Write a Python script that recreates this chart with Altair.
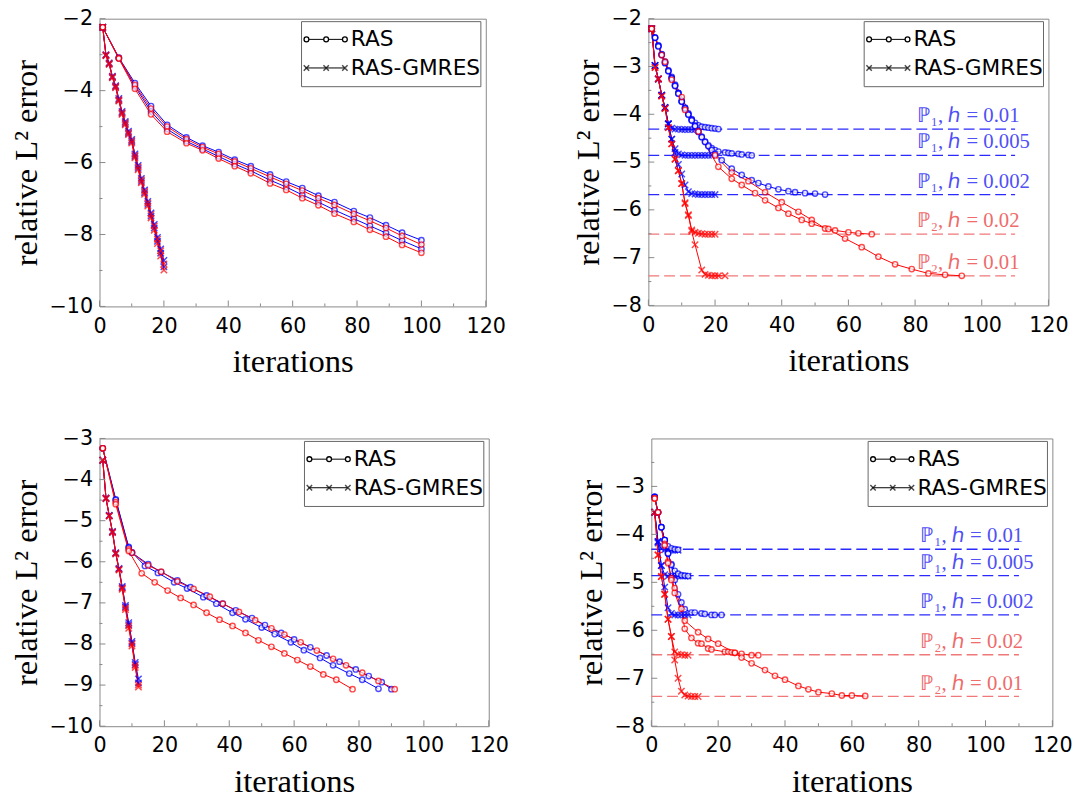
import altair as alt
import pandas as pd

BLUE = "#0000ff"
RED = "#ff0000"
BLUE_DASH = "#2a2aff"
RED_DASH = "#f07878"
BLUE_TXT = "#5050f5"
RED_TXT = "#ee6c6c"
XPATH = "M-1,-1L1,1M-1,1L1,-1"

# ---------------- panel 1 (top-left) ----------------
p1_ras_x = [1, 6, 11, 16, 21, 27, 32, 37, 42, 47, 53, 58, 63, 68, 73, 79, 84, 89, 94, 100]
p1_ras_blue_a = [-2.24, -3.08, -3.79, -4.43, -4.95, -5.30, -5.53, -5.71, -5.92, -6.10, -6.33, -6.53, -6.71, -6.92, -7.10, -7.35, -7.53, -7.74, -7.95, -8.16]
p1_ras_red_a = [-2.24, -3.09, -3.84, -4.50, -5.00, -5.35, -5.57, -5.76, -5.97, -6.16, -6.40, -6.59, -6.78, -6.99, -7.18, -7.43, -7.62, -7.82, -8.04, -8.28]
p1_ras_blue_b = [-2.24, -3.10, -3.88, -4.58, -5.07, -5.41, -5.62, -5.83, -6.04, -6.23, -6.49, -6.68, -6.90, -7.10, -7.32, -7.56, -7.76, -7.96, -8.17, -8.40]
p1_ras_red_b = [-2.24, -3.11, -3.95, -4.66, -5.14, -5.46, -5.66, -5.89, -6.10, -6.30, -6.58, -6.76, -6.99, -7.19, -7.42, -7.65, -7.87, -8.06, -8.29, -8.51]
p1_gm_x = [1, 2, 3, 4, 5, 6, 7, 8, 9, 10, 11, 12, 13, 14, 15, 16, 17, 18, 19, 20]
p1_gm_blue_a = [-2.24, -3.00, -3.23, -3.60, -3.86, -4.22, -4.58, -4.86, -5.13, -5.36, -5.76, -6.08, -6.44, -6.76, -7.08, -7.40, -7.72, -8.08, -8.40, -8.72]
p1_gm_red_a = [-2.24, -3.01, -3.24, -3.61, -3.88, -4.25, -4.61, -4.89, -5.16, -5.39, -5.80, -6.12, -6.48, -6.80, -7.12, -7.44, -7.76, -8.13, -8.45, -8.82]
p1_gm_blue_b = [-2.24, -3.02, -3.26, -3.63, -3.90, -4.27, -4.63, -4.92, -5.19, -5.42, -5.83, -6.16, -6.52, -6.84, -7.16, -7.49, -7.82, -8.19, -8.52, -8.90]
p1_gm_red_b = [-2.24, -3.03, -3.27, -3.64, -3.92, -4.29, -4.66, -4.95, -5.22, -5.46, -5.87, -6.20, -6.56, -6.88, -7.21, -7.54, -7.88, -8.25, -8.60, -8.99]

# ---------------- panel 2 (top-right) ----------------
p2_ras_b1_x = [1, 2, 3, 4, 5, 6, 7, 8, 9, 10, 11, 12, 13, 14, 15, 16, 17, 18, 19, 20, 21]
p2_ras_b1_y = [-2.21, -2.39, -2.56, -2.74, -2.90, -3.08, -3.22, -3.38, -3.55, -3.72, -3.86, -3.98, -4.10, -4.18, -4.23, -4.26, -4.27, -4.28, -4.29, -4.30, -4.31]
p2_ras_b2_x = [1, 2, 3, 4, 5, 6, 7, 8, 9, 10, 11, 12, 13, 14, 15, 16, 17, 18, 19, 20, 21, 23, 24, 25, 27, 28, 30, 31]
p2_ras_b2_y = [-2.21, -2.40, -2.57, -2.75, -2.92, -3.09, -3.24, -3.40, -3.56, -3.73, -3.87, -4.00, -4.12, -4.24, -4.36, -4.47, -4.57, -4.65, -4.71, -4.75, -4.78, -4.80, -4.81, -4.82, -4.83, -4.84, -4.85, -4.86]
p2_ras_b3_x = [1, 2, 3, 4, 5, 6, 7, 8, 9, 10, 11, 12, 13, 14, 15, 16, 17, 18, 19, 20, 22, 25, 28, 31, 33, 36, 39, 42, 44, 47, 50, 53]
p2_ras_b3_y = [-2.21, -2.40, -2.58, -2.76, -2.93, -3.10, -3.25, -3.41, -3.57, -3.74, -3.88, -4.01, -4.13, -4.25, -4.37, -4.48, -4.58, -4.67, -4.75, -4.83, -4.96, -5.14, -5.27, -5.38, -5.44, -5.51, -5.57, -5.61, -5.63, -5.65, -5.66, -5.68]
p2_ras_r1_x = [1, 5, 10, 15, 20, 25, 30, 35, 40, 45, 49, 53, 56, 60, 63, 67]
p2_ras_r1_y = [-2.21, -2.90, -3.64, -4.36, -4.86, -5.22, -5.40, -5.63, -5.84, -6.04, -6.21, -6.39, -6.43, -6.47, -6.49, -6.51]
p2_ras_r2_x = [1, 4, 7, 11, 21, 25, 28, 32, 35, 39, 42, 46, 49, 54, 59, 64, 69, 74, 79, 84, 89, 94]
p2_ras_r2_y = [-2.21, -2.76, -3.28, -3.91, -5.10, -5.35, -5.48, -5.65, -5.80, -5.96, -6.08, -6.21, -6.29, -6.40, -6.60, -6.78, -6.98, -7.14, -7.24, -7.33, -7.36, -7.38]
p2_gm_b1_x = [1, 2, 3, 4, 5, 6, 7, 8, 9, 10, 11, 12, 13, 14]
p2_gm_b1_y = [-2.21, -2.98, -3.26, -3.60, -3.86, -4.20, -4.29, -4.31, -4.31, -4.32, -4.32, -4.32, -4.32, -4.32]
p2_gm_b2_x = [1, 2, 3, 4, 5, 6, 7, 8, 9, 10, 11, 12, 13, 14, 15, 16, 17, 18, 19]
p2_gm_b2_y = [-2.21, -2.98, -3.26, -3.60, -3.86, -4.20, -4.52, -4.72, -4.83, -4.85, -4.86, -4.86, -4.86, -4.86, -4.86, -4.86, -4.86, -4.86, -4.86]
p2_gm_b3_x = [1, 2, 3, 4, 5, 6, 7, 8, 9, 10, 11, 12, 13, 14, 15, 16, 17, 18, 19, 20]
p2_gm_b3_y = [-2.21, -2.98, -3.26, -3.60, -3.86, -4.20, -4.52, -4.80, -5.05, -5.25, -5.48, -5.62, -5.66, -5.67, -5.68, -5.68, -5.68, -5.68, -5.68, -5.68]
p2_gm_r1_x = [1, 2, 3, 4, 5, 6, 7, 8, 9, 10, 11, 12, 13, 14, 15, 16, 17, 18, 19, 20]
p2_gm_r1_y = [-2.21, -3.02, -3.26, -3.62, -3.88, -4.28, -4.62, -4.94, -5.18, -5.45, -5.85, -6.10, -6.42, -6.47, -6.49, -6.50, -6.51, -6.51, -6.51, -6.51]
p2_gm_r2_x = [1, 2, 3, 4, 5, 6, 7, 8, 9, 10, 11, 12, 13, 14, 16, 17, 18, 19, 20, 21, 23]
p2_gm_r2_y = [-2.21, -3.02, -3.26, -3.62, -3.88, -4.28, -4.62, -4.94, -5.18, -5.45, -5.87, -6.12, -6.45, -6.73, -7.26, -7.35, -7.37, -7.38, -7.38, -7.38, -7.38]

# ---------------- panel 3 (bottom-left) ----------------
p3_ras_b1_x = [1, 5, 9, 10, 14, 18, 23, 27, 32, 36, 41, 45, 50, 54, 59, 63, 68, 72, 77, 81, 86]
p3_ras_b1_y = [-3.24, -4.48, -5.64, -5.77, -6.10, -6.27, -6.50, -6.65, -6.86, -7.02, -7.24, -7.40, -7.60, -7.76, -7.96, -8.15, -8.34, -8.52, -8.72, -8.87, -9.09]
p3_ras_b2_x = [1, 5, 9, 10, 15, 19, 24, 28, 33, 38, 42, 47, 51, 56, 60, 65, 70, 74, 79, 83, 87, 90]
p3_ras_b2_y = [-3.24, -4.50, -5.66, -5.78, -6.06, -6.25, -6.45, -6.62, -6.82, -7.02, -7.18, -7.37, -7.54, -7.73, -7.89, -8.08, -8.28, -8.43, -8.62, -8.78, -8.93, -9.10]
p3_ras_r1_x = [1, 5, 9, 10, 15, 19, 24, 29, 34, 38, 43, 48, 53, 57, 62, 67, 72, 76, 81, 86, 91]
p3_ras_r1_y = [-3.24, -4.55, -5.70, -5.78, -6.09, -6.24, -6.48, -6.66, -6.85, -7.02, -7.22, -7.42, -7.62, -7.77, -7.96, -8.16, -8.36, -8.52, -8.70, -8.90, -9.10]
p3_ras_r2_x = [1, 5, 9, 13, 17, 21, 25, 29, 33, 37, 41, 45, 49, 53, 57, 61, 65, 69, 73, 78]
p3_ras_r2_y = [-3.24, -4.60, -5.74, -6.28, -6.50, -6.70, -6.88, -7.05, -7.24, -7.41, -7.56, -7.73, -7.91, -8.07, -8.23, -8.39, -8.55, -8.74, -8.87, -9.10]
p3_gm_x = [1, 2, 3, 4, 5, 6, 7, 8, 9, 10, 11, 12]
p3_gm_b1 = [-3.53, -4.45, -4.87, -5.26, -5.78, -6.16, -6.60, -7.06, -7.48, -7.94, -8.45, -8.85]
p3_gm_b2 = [-3.53, -4.46, -4.88, -5.28, -5.80, -6.18, -6.63, -7.10, -7.53, -7.98, -8.50, -8.95]
p3_gm_r1 = [-3.53, -4.45, -4.88, -5.27, -5.79, -6.18, -6.64, -7.12, -7.56, -8.00, -8.52, -9.00]
p3_gm_r2 = [-3.53, -4.47, -4.89, -5.29, -5.81, -6.20, -6.67, -7.16, -7.62, -8.05, -8.57, -9.05]

# ---------------- panel 4 (bottom-right) ----------------
p4_ras_b1_x = [1, 2, 3, 4, 5, 6, 7, 8]
p4_ras_b1_y = [-3.22, -3.54, -3.85, -4.12, -4.25, -4.29, -4.31, -4.32]
p4_ras_b2_x = [1, 2, 3, 4, 5, 6, 7, 8, 9, 10, 11]
p4_ras_b2_y = [-3.22, -3.54, -3.85, -4.12, -4.40, -4.62, -4.76, -4.82, -4.85, -4.86, -4.87]
p4_ras_b3_x = [1, 2, 3, 4, 5, 6, 7, 8, 9, 10, 12, 13, 15, 16, 18, 19, 21]
p4_ras_b3_y = [-3.22, -3.54, -3.85, -4.12, -4.40, -4.64, -4.95, -5.25, -5.42, -5.56, -5.63, -5.63, -5.65, -5.66, -5.68, -5.68, -5.68]
p4_ras_r1_x = [1, 2, 4, 5, 6, 7, 9, 10, 12, 14, 15, 17, 18, 22, 23, 24, 25, 27, 30, 32]
p4_ras_r1_y = [-3.25, -3.54, -4.20, -4.57, -4.91, -5.12, -5.55, -5.97, -6.16, -6.27, -6.28, -6.38, -6.40, -6.45, -6.45, -6.46, -6.47, -6.49, -6.52, -6.52]
p4_ras_r2_x = [1, 2, 4, 5, 6, 7, 10, 14, 17, 20, 25, 27, 30, 34, 37, 40, 44, 47, 50, 54, 57, 60, 64]
p4_ras_r2_y = [-3.25, -3.54, -4.23, -4.60, -4.95, -5.22, -5.80, -6.04, -6.18, -6.28, -6.47, -6.57, -6.69, -6.83, -6.95, -7.03, -7.16, -7.23, -7.29, -7.32, -7.36, -7.36, -7.37]
p4_gm_b1_x = [1, 2, 3, 4, 5, 6, 7, 8]
p4_gm_b1_y = [-3.54, -4.18, -4.30, -4.32, -4.33, -4.33, -4.33, -4.33]
p4_gm_b2_x = [1, 2, 3, 4, 5, 6, 7, 8, 9, 10, 11]
p4_gm_b2_y = [-3.54, -4.15, -4.65, -4.84, -4.87, -4.87, -4.87, -4.87, -4.87, -4.87, -4.87]
p4_gm_b3_x = [1, 2, 3, 4, 5, 6, 7, 8, 9, 10, 11]
p4_gm_b3_y = [-3.54, -4.15, -4.65, -5.10, -5.53, -5.65, -5.68, -5.68, -5.68, -5.68, -5.68]
p4_gm_r1_x = [1, 2, 3, 4, 5, 6, 7, 8, 9, 10, 11]
p4_gm_r1_y = [-3.54, -4.43, -4.88, -5.25, -5.77, -6.13, -6.45, -6.50, -6.51, -6.52, -6.52]
p4_gm_r2_x = [1, 2, 3, 4, 5, 6, 7, 8, 9, 10, 11, 12, 13, 14]
p4_gm_r2_y = [-3.54, -4.43, -4.88, -5.25, -5.77, -6.13, -6.62, -7.00, -7.27, -7.35, -7.37, -7.38, -7.38, -7.38]

# reference levels and their labels (right panels)
ref_levels = [-4.31, -4.86, -5.68, -6.51, -7.38]
ref_labels = ["ℙ₁,  ℎ = 0.01", "ℙ₁,  ℎ = 0.005", "ℙ₁,  ℎ = 0.002", "ℙ₂,  ℎ = 0.02", "ℙ₂,  ℎ = 0.01"]
ref_kinds = ["P1", "P1", "P1", "P2", "P2"]
ref_x_start = 0
ref_x_end = 110
ref_label_x = 80.5

x_ticks = [0, 20, 40, 60, 80, 100, 120]
x_minor = [10, 30, 50, 70, 90, 110]


def series_df(items):
    rows = []
    for i, (color, xs, ys) in enumerate(items):
        for xv, yv in zip(xs, ys):
            rows.append({"x": xv, "y": yv, "s": i, "c": color})
    return pd.DataFrame(rows)


def make_panel(W, H, ydom, ylabels, ymajor, yminor, ras, gm, refs):
    X = alt.X("x:Q", scale=alt.Scale(domain=[0, 120], nice=False, zero=False),
              axis=alt.Axis(values=x_ticks, title="iterations", format="d", labelFlush=False,
                            ticks=False, domain=False, grid=False, labelPadding=9, titlePadding=10))
    Y = alt.Y("y:Q", scale=alt.Scale(domain=ydom, nice=False, zero=False),
              axis=alt.Axis(values=ylabels, title="relative L² error", format="d", labelFlush=False,
                            ticks=False, domain=False, grid=False, labelPadding=7, titlePadding=6))
    layers = []
    if refs:
        ref_df = pd.DataFrame({
            "x": [ref_x_start] * 5, "x2": [ref_x_end] * 5, "y": ref_levels,
            "c": [BLUE_DASH if k == "P1" else RED_DASH for k in ref_kinds],
        })
        layers.append(alt.Chart(ref_df).mark_rule(strokeDash=[11, 5], strokeWidth=1.3).encode(
            x=X, x2="x2:Q", y=Y, color=alt.Color("c:N", scale=None)))
        lab_df = pd.DataFrame({
            "x": [ref_label_x] * 5, "y": ref_levels, "t": ref_labels,
            "c": [BLUE_TXT if k == "P1" else RED_TXT for k in ref_kinds],
        })
        layers.append(alt.Chart(lab_df).mark_text(align="left", baseline="alphabetic", dy=-7,
                                                  font="Liberation Serif", fontSize=21).encode(
            x=X, y=Y, text="t:N", color=alt.Color("c:N", scale=None)))
    ras_df = series_df(ras)
    gm_df = series_df(gm)
    gm_df["s"] = gm_df["s"] + 100
    all_df = pd.concat([ras_df, gm_df], ignore_index=True)
    layers.append(alt.Chart(all_df).mark_line(strokeWidth=1).encode(
        x=X, y=Y, detail="s:N", color=alt.Color("c:N", scale=None)))
    layers.append(alt.Chart(gm_df).mark_point(shape=XPATH, size=42, strokeWidth=1.5, filled=False).encode(
        x=X, y=Y, stroke=alt.Stroke("c:N", scale=None)))
    layers.append(alt.Chart(ras_df).mark_point(shape="circle", size=30, strokeWidth=1.4).encode(
        x=X, y=Y, stroke=alt.Stroke("c:N", scale=None), fill=alt.value("white")))
    # inward ticks
    tick_color = "#888888"
    layers.append(alt.Chart(pd.DataFrame({"x": x_ticks})).mark_rule(color=tick_color).encode(
        x=X, y=alt.value(H), y2=alt.value(H - 6)))
    layers.append(alt.Chart(pd.DataFrame({"x": x_minor})).mark_rule(color=tick_color).encode(
        x=X, y=alt.value(H), y2=alt.value(H - 3)))
    layers.append(alt.Chart(pd.DataFrame({"y": ymajor})).mark_rule(color=tick_color).encode(
        y=Y, x=alt.value(0), x2=alt.value(6)))
    layers.append(alt.Chart(pd.DataFrame({"y": yminor})).mark_rule(color=tick_color).encode(
        y=Y, x=alt.value(0), x2=alt.value(3)))
    # legend box
    one = pd.DataFrame({"a": [0]})
    bx0, bx1, by0, by1 = W - 187, W - 5, 3, 69
    layers.append(alt.Chart(one).mark_rect(fill="white", stroke="#666666", strokeWidth=1).encode(
        x=alt.value(bx0), x2=alt.value(bx1), y=alt.value(by0), y2=alt.value(by1)))
    for label, yy, shape in [("RAS", 21, "circle"), ("RAS-GMRES", 50, XPATH)]:
        layers.append(alt.Chart(one).mark_rule(color="black", strokeWidth=1).encode(
            x=alt.value(bx0 + 4), x2=alt.value(bx0 + 44), y=alt.value(yy)))
        for mx in (bx0 + 5, bx0 + 25, bx0 + 44):
            if shape == "circle":
                layers.append(alt.Chart(one).mark_point(shape="circle", size=24, strokeWidth=1.3,
                                                        stroke="black", fill="white", opacity=1).encode(
                    x=alt.value(mx), y=alt.value(yy)))
            else:
                layers.append(alt.Chart(one).mark_point(shape=XPATH, size=30, strokeWidth=1.5,
                                                        stroke="black", filled=False).encode(
                    x=alt.value(mx), y=alt.value(yy)))
        layers.append(alt.Chart(one).mark_text(align="left", baseline="middle", font="DejaVu Sans",
                                               fontSize=22, color="black").encode(
            x=alt.value(bx0 + 50), y=alt.value(yy), text=alt.value(label)))
    return alt.layer(*layers).properties(width=W, height=H)


p1 = make_panel(392, 292, [-10, -2], [-2, -4, -6, -8, -10], [-2, -4, -6, -8, -10], [-3, -5, -7, -9],
                [(BLUE, p1_ras_x, p1_ras_blue_a), (BLUE, p1_ras_x, p1_ras_blue_b),
                 (RED, p1_ras_x, p1_ras_red_a), (RED, p1_ras_x, p1_ras_red_b)],
                [(BLUE, p1_gm_x, p1_gm_blue_a), (BLUE, p1_gm_x, p1_gm_blue_b),
                 (RED, p1_gm_x, p1_gm_red_a), (RED, p1_gm_x, p1_gm_red_b)], False)

p2 = make_panel(406, 291, [-8, -2], [-2, -3, -4, -5, -6, -7, -8], [-2, -3, -4, -5, -6, -7, -8],
                [-2.5, -3.5, -4.5, -5.5, -6.5, -7.5],
                [(BLUE, p2_ras_b1_x, p2_ras_b1_y), (BLUE, p2_ras_b2_x, p2_ras_b2_y),
                 (BLUE, p2_ras_b3_x, p2_ras_b3_y), (RED, p2_ras_r1_x, p2_ras_r1_y),
                 (RED, p2_ras_r2_x, p2_ras_r2_y)],
                [(BLUE, p2_gm_b1_x, p2_gm_b1_y), (BLUE, p2_gm_b2_x, p2_gm_b2_y),
                 (BLUE, p2_gm_b3_x, p2_gm_b3_y), (RED, p2_gm_r1_x, p2_gm_r1_y),
                 (RED, p2_gm_r2_x, p2_gm_r2_y)], True)

p3 = make_panel(395, 292, [-10, -3], [-3, -4, -5, -6, -7, -8, -9, -10], [-3, -4, -5, -6, -7, -8, -9, -10],
                [-3.5, -4.5, -5.5, -6.5, -7.5, -8.5, -9.5],
                [(BLUE, p3_ras_b1_x, p3_ras_b1_y), (BLUE, p3_ras_b2_x, p3_ras_b2_y),
                 (RED, p3_ras_r1_x, p3_ras_r1_y), (RED, p3_ras_r2_x, p3_ras_r2_y)],
                [(BLUE, p3_gm_x, p3_gm_b1), (BLUE, p3_gm_x, p3_gm_b2),
                 (RED, p3_gm_x, p3_gm_r1), (RED, p3_gm_x, p3_gm_r2)], False)

p4 = make_panel(407, 292, [-8, -2], [-3, -4, -5, -6, -7, -8], [-3, -4, -5, -6, -7, -8],
                [-2.5, -3.5, -4.5, -5.5, -6.5, -7.5],
                [(BLUE, p4_ras_b1_x, p4_ras_b1_y), (BLUE, p4_ras_b2_x, p4_ras_b2_y),
                 (BLUE, p4_ras_b3_x, p4_ras_b3_y), (RED, p4_ras_r1_x, p4_ras_r1_y),
                 (RED, p4_ras_r2_x, p4_ras_r2_y)],
                [(BLUE, p4_gm_b1_x, p4_gm_b1_y), (BLUE, p4_gm_b2_x, p4_gm_b2_y),
                 (BLUE, p4_gm_b3_x, p4_gm_b3_y), (RED, p4_gm_r1_x, p4_gm_r1_y),
                 (RED, p4_gm_r2_x, p4_gm_r2_y)], True)

top = alt.hconcat(p1, p2, spacing=66)
bottom = alt.hconcat(p3, p4, spacing=66)
chart = alt.vconcat(top, bottom, spacing=48).properties(
    padding={"left": 10, "top": 1, "right": 5, "bottom": 0},
    background="white",
).configure_view(stroke="#888888", strokeWidth=1).configure_axis(
    labelFont="DejaVu Sans", labelFontSize=21, labelColor="black",
    titleFont="Liberation Serif", titleFontSize=33, titleFontWeight="normal", titleColor="black"
)

chart.save("out.html", embed_options={"renderer": "svg", "actions": False})
